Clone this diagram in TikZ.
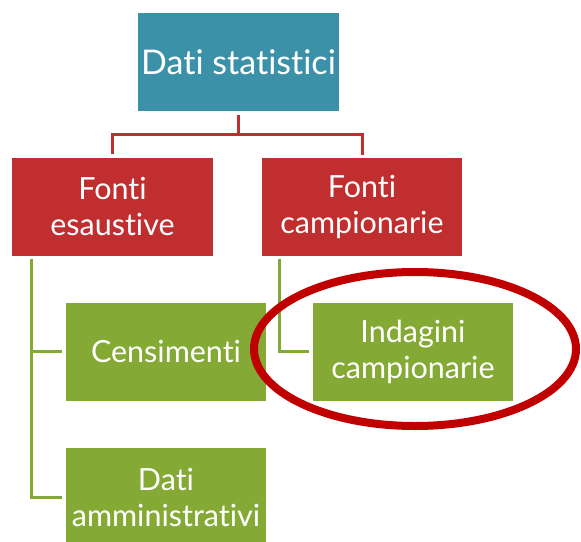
\documentclass[tikz,border=0pt]{standalone}
\usepackage{fontspec}
\setmainfont{Lato}[Ligatures={NoCommon,NoContextual}]
\usetikzlibrary{calc}
\definecolor{tealc}{RGB}{59,145,168}
\definecolor{redc}{RGB}{192,46,47}
\definecolor{greenc}{RGB}{132,170,53}
\definecolor{ellc}{RGB}{192,0,0}
\tikzset{
  boxbase/.style={rectangle, minimum width=200.5pt, minimum height=98pt, inner sep=0pt, text=white, align=center},
  tbox/.style={boxbase, fill=tealc, font=\fontsize{34}{40}\selectfont},
  rbox/.style={boxbase, fill=redc, font=\fontsize{30.5}{36}\selectfont},
  gbox/.style={boxbase, fill=greenc, font=\fontsize{30.5}{36}\selectfont},
  rline/.style={draw=redc, line width=3pt},
  gline/.style={draw=greenc, line width=3pt},
  ellip/.style={draw=ellc, line width=8pt}
}
\begin{document}
\begin{tikzpicture}[x=1pt,y=-1pt]
\useasboundingbox (0,0) rectangle (581,541);
\node[tbox] (top) at (238.5,62) {Dati statistici};
\node[rbox] (fe) at (112.5,206.5) {Fonti\\esaustive};
\node[rbox] (fc) at (362,206.5) {Fonti\\campionarie};
\node[gbox] (cen) at (166,351.7) {Censimenti};
\node[gbox] (dam) at (166,497) {Dati\\amministrativi};
\node[gbox] (ind) at (413,351.7) {Indagini\\campionarie};
\draw[rline] ($(top.south)+(0,4)$) -- ++(0,19) coordinate (mid);
\draw[rline] (mid) -| ($(fe.north)+(0,-3)$);
\draw[rline] (mid) -| ($(fc.north)+(0,-2)$);
\draw[gline] ($(fe.south west)+(19,3)$) |- ($(cen.west)+(-4,0)$);
\draw[gline] ($(fe.south west)+(19,3)$) |- ($(dam.west)+(-4,0)$);
\draw[gline] ($(fc.south west)+(18,3)$) |- ($(ind.west)+(-4,0)$);
\draw[ellip] (415,349) ellipse [x radius=161pt, y radius=77pt];
\end{tikzpicture}
\end{document}
